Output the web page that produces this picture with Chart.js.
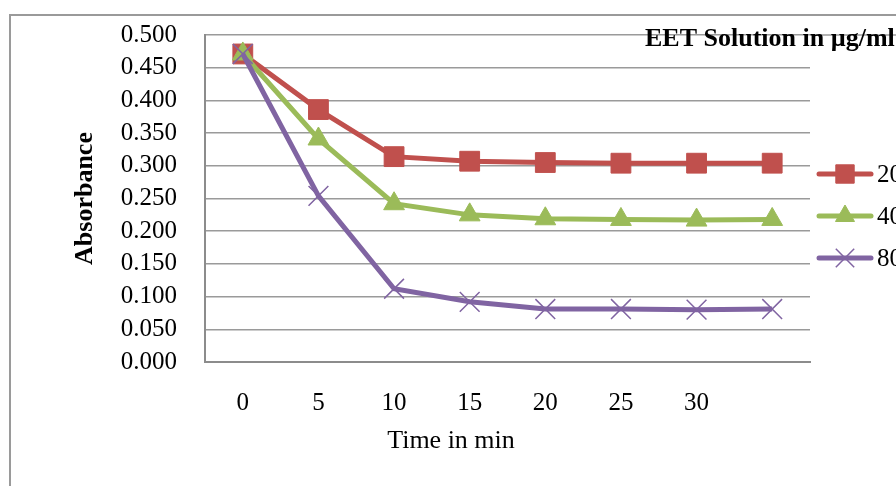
<!DOCTYPE html>
<html>
<head>
<meta charset="utf-8">
<script src="https://cdn.jsdelivr.net/npm/chart.js@4"></script>
<style>
  html, body { margin: 0; padding: 0; background: #fff; }
  #wrap { width: 896px; height: 486px; }
</style>
</head>
<body>
<div id="wrap"><canvas id="chart" width="896" height="486"></canvas></div>
<script>
// Time in min (last point has no label on the axis)
const timeLabels = ['0', '5', '10', '15', '20', '25', '30', ''];

// absorbance per concentration
const abs20 = [0.471, 0.386, 0.314, 0.307, 0.305, 0.304, 0.304, 0.304];
const abs40 = [0.471, 0.341, 0.242, 0.225, 0.219, 0.218, 0.217, 0.218];
const abs80 = [0.471, 0.254, 0.112, 0.092, 0.081, 0.081, 0.080, 0.081];

const seriesNames = ['20', '40', '80'];
const yTicks = [0, 0.05, 0.1, 0.15, 0.2, 0.25, 0.3, 0.35, 0.4, 0.45, 0.5];

const serif = '"Liberation Serif", "Times New Roman", serif';

// frame, extra line, titles and the legend on the right
const decorations = {
    id: 'decorations',
    beforeDraw(chart) {
        const ctx = chart.ctx;
        ctx.save();
        ctx.strokeStyle = '#9a9a9a';
        ctx.lineWidth = 2;
        ctx.beginPath();
        ctx.moveTo(10, 500);
        ctx.lineTo(10, 15);
        ctx.lineTo(900, 15);
        ctx.stroke();
        ctx.restore();
    },
    afterDraw(chart) {
        const ctx = chart.ctx;
        const area = chart.chartArea;
        ctx.save();

        // top gridline carries on under the title
        ctx.strokeStyle = '#9a9a9a';
        ctx.lineWidth = 1.5;
        ctx.beginPath();
        ctx.moveTo(area.right, area.top);
        ctx.lineTo(896, area.top);
        ctx.stroke();

        ctx.fillStyle = '#000';
        ctx.font = 'bold 26px ' + serif;
        ctx.textAlign = 'left';
        ctx.textBaseline = 'middle';
        ctx.fillText('EET Solution in µg/ml', 645, 39);

        // x axis title
        ctx.font = '26px ' + serif;
        ctx.textAlign = 'center';
        ctx.fillText('Time in min', 451, 441);

        // legend
        const rows = [174, 216, 258];
        chart.data.datasets.forEach(function(ds, i) {
            const y = rows[i];
            ctx.strokeStyle = ds.borderColor;
            ctx.lineWidth = 5;
            ctx.lineCap = 'round';
            ctx.beginPath();
            ctx.moveTo(819, y);
            ctx.lineTo(871, y);
            ctx.stroke();
            ctx.lineCap = 'butt';
            ctx.fillStyle = ds.pointBackgroundColor;
            ctx.strokeStyle = ds.pointBorderColor;
            ctx.lineWidth = ds.pointBorderWidth;
            Chart.helpers.drawPoint(ctx, {
                pointStyle: ds.pointStyle,
                radius: ds.pointRadius - 1,
                borderWidth: ds.pointBorderWidth
            }, 845, y);
            ctx.fillStyle = '#000';
            ctx.font = '25px ' + serif;
            ctx.textAlign = 'left';
            ctx.fillText(seriesNames[i], 877, y + 1);
        });
        ctx.restore();
    }
};

function makeSet(name, values, color, style, radius, order) {
    return {
        label: name,
        data: values,
        borderColor: color,
        backgroundColor: color,
        borderWidth: 5,
        pointStyle: style,
        pointRadius: radius,
        pointHoverRadius: radius,
        pointBackgroundColor: color,
        pointBorderColor: color,
        pointBorderWidth: style === 'crossRot' ? 1.5 : 1,
        tension: 0,
        order: order
    };
}

new Chart(document.getElementById('chart'), {
    type: 'line',
    data: {
        labels: timeLabels,
        datasets: [
            makeSet(seriesNames[0], abs20, '#c0504d', 'rect', 14, 3),
            makeSet(seriesNames[1], abs40, '#9bbb59', 'triangle', 12, 2),
            makeSet(seriesNames[2], abs80, '#8064a2', 'crossRot', 14, 1)
        ]
    },
    options: {
        responsive: false,
        animation: false,
        layout: { padding: { top: 35, right: 86, left: 0, bottom: 0 } },
        plugins: {
            legend: { display: false },
            tooltip: { enabled: false }
        },
        scales: {
            x: {
                offset: true,
                grid: { display: false, drawTicks: false },
                border: { display: true, color: '#8c8c8c', width: 2 },
                ticks: {
                    color: '#000',
                    padding: 26,
                    maxRotation: 0,
                    autoSkip: false,
                    font: { family: serif, size: 25 }
                },
                afterFit(scale) {
                    scale.height = 124;
                    scale.paddingLeft = 0;
                    scale.paddingRight = 0;
                }
            },
            y: {
                min: 0,
                max: 0.5,
                afterBuildTicks(scale) {
                    scale.ticks = yTicks.map(v => ({ value: v }));
                },
                grid: { color: '#9a9a9a', lineWidth: 1.5, drawTicks: false },
                border: { display: true, color: '#8c8c8c', width: 2 },
                ticks: {
                    color: '#000',
                    padding: 28,
                    autoSkip: false,
                    font: { family: serif, size: 25 },
                    callback: v => v.toFixed(3)
                },
                title: {
                    display: true,
                    text: 'Absorbance',
                    color: '#000',
                    font: { family: serif, size: 26, weight: 'bold' },
                    padding: { top: 70, bottom: 0 }
                },
                afterFit(scale) {
                    scale.width = 205;
                    scale.paddingTop = 0;
                    scale.paddingBottom = 0;
                }
            }
        }
    },
    plugins: [decorations]
});
</script>
</body>
</html>
